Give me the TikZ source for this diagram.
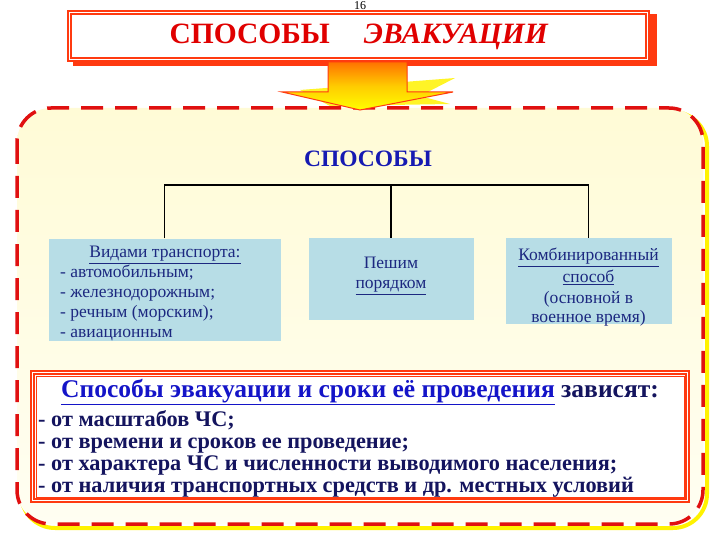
\documentclass[tikz,border=0pt]{standalone}
\usepackage{fontspec}
\setmainfont{Liberation Serif}
\usetikzlibrary{calc}
\newcommand{\myul}[1]{\underline{#1}}
\definecolor{frameor}{HTML}{FF3A10}
\definecolor{titlered}{HTML}{E00000}
\definecolor{dashred}{HTML}{E01010}
\definecolor{boxblue}{HTML}{B7DDE6}
\definecolor{navy}{HTML}{1C2880}
\definecolor{headblue}{HTML}{1414C8}
\definecolor{darknavy}{HTML}{14145E}
\definecolor{ylwA}{HTML}{FFFBD6}
\definecolor{ylwB}{HTML}{FFFEF2}
\tikzset{
  x=1pt, y=-1pt,
  typebox/.style={fill=boxblue, draw=none, inner sep=0pt},
  boxtext/.style={text=navy, font=\fontsize{17.5}{20}\selectfont},
  treeline/.style={line width=1.8pt, black},
}
\begin{document}
\begin{tikzpicture}
\useasboundingbox (0,0) rectangle (720,540);
% page number
\node[font=\fontsize{12}{12}\selectfont] (pg) at (360,6) {16};
% title frame
\fill[frameor] (73,14) rectangle (657,66);
\fill[frameor] (67,10) rectangle (650,62);
\draw[white, line width=0.8pt] (69.5,12.5) rectangle (647.5,59.5);
\fill[white] (72,15) rectangle (645,57);
\node[text=titlered, font=\fontsize{29.5}{30}\selectfont\bfseries] (title) at (359,37) {СПОСОБЫ\hspace{34pt}\textit{ЭВАКУАЦИИ}};
% dashed frame
\draw[yellow, line width=4pt, rounded corners=34pt] (21,112) rectangle (707,528);
\shade[top color=ylwA, bottom color=ylwB, rounded corners=34pt] (17,108) rectangle (703,524);
\draw[dashred, line width=3.5pt, dash pattern=on 22pt off 12pt, rounded corners=34pt] (17,108) rectangle (703,524);
% arrow
\fill[yellow!85!white] (300,90) -- (455,78) -- (420,96) -- (450,104) -- (330,106) -- cycle;
\shade[top color=orange!90!red, bottom color=yellow, middle color=yellow!60!orange, draw=frameor, line width=1pt]
  (328,62) -- (407,62) -- (407,92) -- (453,92) -- (360,110) -- (282,92) -- (328,92) -- cycle;
% heading
\node[text=headblue!70!navy, font=\fontsize{23.5}{23.5}\selectfont\bfseries] (sp) at (368,159) {СПОСОБЫ};
% boxes
\node[typebox, minimum width=232pt, minimum height=102pt] (b1) at (164.5,289.5) {};
\node[typebox, minimum width=165pt, minimum height=82pt] (b2) at (391,279) {};
\node[typebox, minimum width=166pt, minimum height=86pt] (b3) at (588.5,281) {};
\node[boxtext] (b1h) at (165,255) {\myul{Видами транспорта:}};
\node[boxtext, align=left, anchor=north west, inner sep=0pt] (b1t) at (60,265)
  {- автомобильным;\\- железнодорожным;\\- речным (морским);\\- авиационным};
\node[boxtext, align=center] (b2t) at (391,276) {Пешим\\\myul{порядком}};
\node[boxtext, font=\fontsize{17.5}{21.5}\selectfont, align=center] (b3t) at (588.5,287)
  {\myul{Комбинированный}\\\myul{способ}\\(основной в\\[-3pt]военное время)};
% tree
\coordinate (bar) at (391,185);
\draw[treeline] (b1.north) |- (bar) -| (b3.north);
\draw[treeline] (b2.north) -- (b2.north |- bar);
% bottom box
\fill[frameor] (30,370) rectangle (690,503);
\draw[white, line width=0.8pt] (32.5,372.5) rectangle (687.5,500.5);
\fill[white] (35,375) rectangle (685,498);
\draw[frameor, line width=0.6pt] (36,376) rectangle (684,497);
\node[font=\fontsize{25.5}{25.5}\selectfont\bfseries] (hd) at (360,392)
  {\textcolor{headblue}{\myul{Способы эвакуации и сроки её проведения}} \textcolor{darknavy}{зависят:}};
\node[text=darknavy, font=\fontsize{22.3}{22.2}\selectfont\bfseries, align=left, anchor=north west, inner sep=0pt] (lst) at (38,410)
  {- от масштабов ЧС;\\- от времени и сроков ее проведение;\\- от характера ЧС и численности выводимого населения;\\- от наличия транспортных средств и др. местных условий};
\end{tikzpicture}
\end{document}
